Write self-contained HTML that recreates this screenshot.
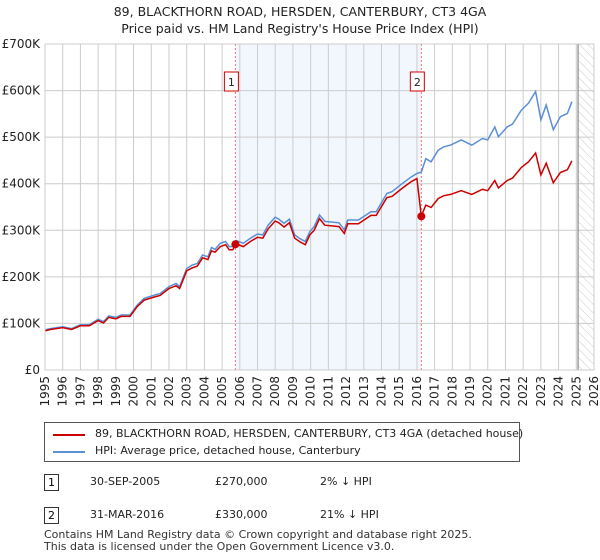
<!DOCTYPE html>
<html><head><meta charset="utf-8"><style>
body{margin:0;background:#fff;font-family:"DejaVu Sans","Liberation Sans",sans-serif;}
#wrap{position:relative;width:600px;height:560px;overflow:hidden}
.t{position:absolute;font-size:12px;color:#222;white-space:nowrap}
</style></head><body><div id="wrap">
<svg id="chart" width="600" height="420" style="position:absolute;left:0;top:0">
<defs><pattern id="hatch" width="6" height="6" patternUnits="userSpaceOnUse" patternTransform="rotate(-45)"><line x1="0" y1="0" x2="0" y2="6" stroke="#ccc" stroke-width="1"/></pattern></defs>
<text x="300" y="16" text-anchor="middle" font-size="12.5" fill="#222">89, BLACKTHORN ROAD, HERSDEN, CANTERBURY, CT3 4GA</text>
<text x="300" y="33" text-anchor="middle" font-size="12.5" fill="#222">Price paid vs. HM Land Registry's House Price Index (HPI)</text>
<g id="g"></g>
</svg>
<div style="position:absolute;left:44px;top:422px;width:476px;height:40px;border:1px solid #555;box-sizing:border-box">
<div style="position:absolute;left:8px;top:11px;width:32px;height:2px;background:#cc0000"></div>
<div class="t" style="left:50px;top:4px;font-size:11px">89, BLACKTHORN ROAD, HERSDEN, CANTERBURY, CT3 4GA (detached house)</div>
<div style="position:absolute;left:8px;top:28px;width:32px;height:2px;background:#5b8fd4"></div>
<div class="t" style="left:50px;top:21px;font-size:11px">HPI: Average price, detached house, Canterbury</div>
</div>
<div style="position:absolute;left:44px;top:474px;width:15px;height:17px;border:1px solid #333;box-sizing:border-box;font-size:11px;text-align:center;line-height:15px">1</div>
<div class="t" style="left:90px;top:475px;font-size:11px">30-SEP-2005</div>
<div class="t" style="left:215px;top:475px;font-size:11px">£270,000</div>
<div class="t" style="left:320px;top:475px;font-size:11px">2% ↓ HPI</div>
<div style="position:absolute;left:44px;top:507px;width:15px;height:17px;border:1px solid #333;box-sizing:border-box;font-size:11px;text-align:center;line-height:15px">2</div>
<div class="t" style="left:90px;top:508px;font-size:11px">31-MAR-2016</div>
<div class="t" style="left:215px;top:508px;font-size:11px">£330,000</div>
<div class="t" style="left:320px;top:508px;font-size:11px">21% ↓ HPI</div>
<div class="t" style="left:44px;top:529px;font-size:11px;color:#333;line-height:12px">Contains HM Land Registry data © Crown copyright and database right 2025.<br>This data is licensed under the Open Government Licence v3.0.</div>
</div>
<script>
const dates=[1995.0,1995.3,1996.0,1996.5,1997.0,1997.5,1998.0,1998.3,1998.6,1999.0,1999.3,1999.8,2000.2,2000.6,2001.2,2001.5,2002.0,2002.4,2002.6,2003.0,2003.3,2003.6,2003.9,2004.2,2004.4,2004.6,2004.9,2005.2,2005.4,2005.6,2005.8,2006.2,2006.6,2007.0,2007.3,2007.6,2008.0,2008.2,2008.5,2008.8,2009.1,2009.4,2009.7,2009.95,2010.2,2010.5,2010.8,2011.6,2011.9,2012.1,2012.7,2013.4,2013.7,2014.3,2014.6,2015.2,2015.7,2016.0,2016.25,2016.5,2016.8,2017.2,2017.5,2017.9,2018.5,2019.1,2019.7,2020.0,2020.4,2020.6,2021.1,2021.4,2021.9,2022.3,2022.7,2023.0,2023.3,2023.7,2024.1,2024.5,2024.75];
const hpiValues=[86,89,93,89,97,97,109,104,116,113,118,118,139,154,161,164,179,186,179,218,225,229,247,243,263,259,272,276,265,265,278,272,283,292,290,311,328,324,315,324,290,282,276,297,308,333,319,316,301,322,322,340,340,379,383,401,415,422,425,454,447,472,479,483,494,483,497,494,522,501,522,528,558,573,598,537,569,516,544,551,576];
const paidValues=[84,87,91,87,95,95,106,101,113,110,115,115,136,150,157,160,175,181,175,213,219,223,241,237,256,253,265,269,258,258,271,265,276,285,283,303,320,316,307,316,283,275,269,290,300,325,311,308,293,314,314,332,332,370,373,391,405,411,330,354,349,368,374,377,385,377,388,385,407,391,407,412,435,447,466,419,444,402,424,430,449];
const saleDates=[2005.75,2016.25];
const salePrices=[270,330];
const yTicks=[0,100,200,300,400,500,600,700];
const yTickLabels=["£0","£100K","£200K","£300K","£400K","£500K","£600K","£700K"];
const years=[1995,1996,1997,1998,1999,2000,2001,2002,2003,2004,2005,2006,2007,2008,2009,2010,2011,2012,2013,2014,2015,2016,2017,2018,2019,2020,2021,2022,2023,2024,2025,2026];
const dataEnd=2025.1;
const X0=45,X1=594,Y0=370,Y1=44;
const xs=d=>X0+(d-1995)/(2026-1995)*(X1-X0);
const ys=v=>Y0-v/700*(Y0-Y1);
const g=document.getElementById('g');const NS='http://www.w3.org/2000/svg';
function mk(t,a,p){const e=document.createElementNS(NS,t);for(const k in a)e.setAttribute(k,a[k]);(p||g).appendChild(e);return e;}
let e;
e=mk('rect',{x:xs(saleDates[0]),y:Y1,width:xs(saleDates[1])-xs(saleDates[0]),height:Y0-Y1,fill:'#f2f6fd'});

e=mk('rect',{x:xs(dataEnd),y:Y1,width:X1-xs(dataEnd),height:Y0-Y1,fill:'url(#hatch)'});

years.forEach(y=>{e=mk('line',{x1:xs(y),x2:xs(y),y1:Y1,y2:Y0,stroke:'#ccc','stroke-width':1});

e=mk('text',{x:0,y:0,transform:`translate(${xs(y)+4},${Y0+6}) rotate(-90)`,'text-anchor':'end','font-size':12,fill:'#222'});
e.textContent=y;});
yTicks.forEach((v,i)=>{e=mk('line',{x1:X0,x2:X1,y1:ys(v),y2:ys(v),stroke:'#ccc','stroke-width':1});

e=mk('text',{x:40,y:ys(v)+4,'text-anchor':'end','font-size':12,fill:'#222'});e.textContent=yTickLabels[i];
});
e=mk('line',{x1:xs(dataEnd),x2:xs(dataEnd),y1:Y1,y2:Y0,stroke:'#888','stroke-width':1.2});

saleDates.forEach((d,i)=>{e=mk('line',{x1:xs(d),x2:xs(d),y1:Y1,y2:Y0,stroke:'#f07070','stroke-width':1,'stroke-dasharray':'2,2'});

e=mk('rect',{x:xs(d)-11,y:72,width:14,height:19,fill:'#fff',stroke:'#cc0000','stroke-width':1});

e=mk('text',{x:xs(d)-4,y:86,'text-anchor':'middle','font-size':11,fill:'#222'});e.textContent=String(i+1);
});
const pts=a=>a.map((v,i)=>xs(dates[i]).toFixed(1)+','+ys(v).toFixed(1)).join(' ');
e=mk('polyline',{points:pts(hpiValues),fill:'none',stroke:'#5b8fd4','stroke-width':1.5});

e=mk('polyline',{points:pts(paidValues),fill:'none',stroke:'#cc0000','stroke-width':1.5});

saleDates.forEach((d,i)=>{e=mk('circle',{cx:xs(d),cy:ys(salePrices[i]),r:4,fill:'#cc0000'});
});
e=mk('rect',{x:X0,y:Y1,width:X1-X0,height:Y0-Y1,fill:'none',stroke:'#ccc'});

</script>
</body></html>
